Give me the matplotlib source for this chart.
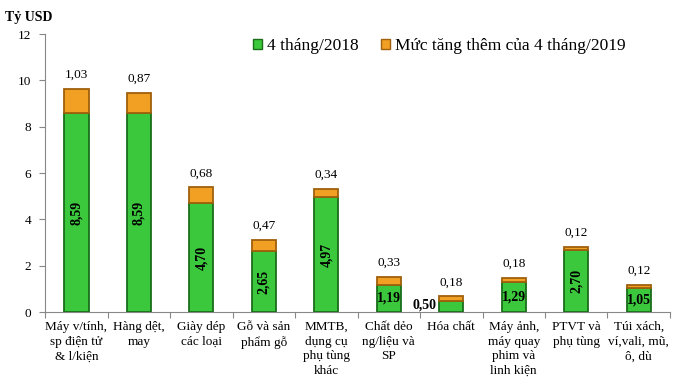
import matplotlib
matplotlib.use("Agg")
import matplotlib.pyplot as plt
from matplotlib.patches import Patch
import numpy as np

categories = ["Máy v/tính,\nsp điện tử\n& l/kiện", "Hàng dệt,\nmay", "Giày dép\ncác loại",
              "Gỗ và sản\nphẩm gỗ", "MMTB,\ndụng cụ\nphụ tùng\nkhác", "Chất dẻo\nng/liệu và\nSP",
              "Hóa chất", "Máy ảnh,\nmáy quay\nphim và\nlinh kiện", "PTVT và\nphụ tùng",
              "Túi xách,\nví,vali, mũ,\nô, dù"]
base_2018 = [8.59, 8.59, 4.70, 2.65, 4.97, 1.19, 0.50, 1.29, 2.70, 1.05]
increase_2019 = [1.03, 0.87, 0.68, 0.47, 0.34, 0.33, 0.18, 0.18, 0.12, 0.12]
yticks = [0, 2, 4, 6, 8, 10, 12]

def fmt(v):
    return f"{v:.2f}".replace(".", ",")

plt.rcParams['font.family'] = ['Liberation Serif', 'DejaVu Serif']

fig = plt.figure(figsize=(6.73, 3.83), dpi=100)
ax = fig.add_axes([0.067, 0.185, 0.9285, 0.726])

x = np.arange(len(categories))
green = "#3cc83c"
green_edge = "#1a6e1a"
orange = "#f2a024"
orange_edge = "#a0600c"
w = 0.39
ax.bar(x, base_2018, width=w, color=green, edgecolor=green_edge, linewidth=1.3, zorder=3)
ax.bar(x, increase_2019, width=w, bottom=base_2018, color=orange, edgecolor=orange_edge, linewidth=1.3, zorder=3)

for i, (b, inc) in enumerate(zip(base_2018, increase_2019)):
    top = b + inc
    ax.text(i, top + 0.35, fmt(inc), ha='center', va='bottom', fontsize=9.5)
    if b >= 2.0:
        ax.text(i, b / 2, fmt(b), ha='center', va='center', rotation=90,
                fontsize=10, fontweight='bold', zorder=4)
    elif b >= 1.0:
        ax.text(i, b / 2, fmt(b), ha='center', va='center',
                fontsize=10, fontweight='bold', zorder=4)
    else:
        ax.text(i - w / 2 - 0.04, b / 2 + 0.05, fmt(b), ha='right', va='center',
                fontsize=10, fontweight='bold', zorder=4)

ax.set_xlim(-0.5, len(categories) - 0.5)
ax.set_ylim(0, 12)
ax.set_yticks(yticks)
ax.set_yticklabels([str(t) for t in yticks], fontsize=9.5)
ax.set_xticks(np.arange(len(categories) + 1) - 0.5)
ax.set_xticklabels([])
ax.tick_params(axis='x', length=4, color='#888888', direction='out')
ax.tick_params(axis='y', length=4, color='#888888', direction='out', pad=6)
for i, c in enumerate(categories):
    ax.text(i, -0.38, c, ha='center', va='top', fontsize=9.5, linespacing=1.3)

for s in ['top', 'right']:
    ax.spines[s].set_visible(False)
ax.spines['left'].set_color('#888888')
ax.spines['bottom'].set_color('#888888')

fig.text(0.008, 0.955, "Tỷ USD", fontsize=10, fontweight='bold', ha='left', va='center')

handles = [Patch(facecolor=green, edgecolor=green_edge, label="4 tháng/2018"),
           Patch(facecolor=orange, edgecolor=orange_edge, label="Mức tăng thêm của 4 tháng/2019")]
fig.legend(handles=handles, loc='center', bbox_to_anchor=(0.653, 0.88), ncol=2, frameon=False,
           fontsize=12.5, handlelength=0.5, handleheight=0.5, handletextpad=0.3, columnspacing=1.3)

fig.savefig("out.png", dpi=100)
